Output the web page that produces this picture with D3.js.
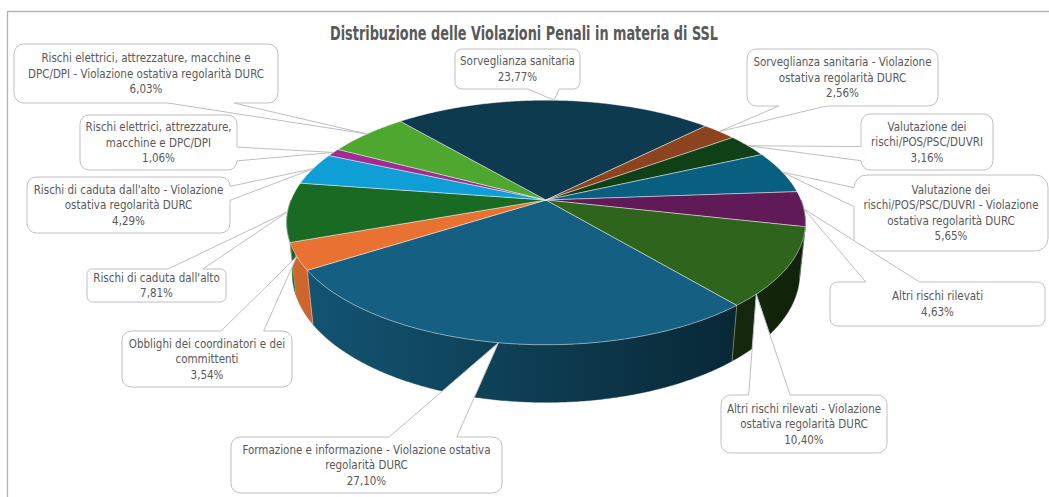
<!DOCTYPE html>
<html>
<head>
<meta charset="utf-8">
<script src="https://cdn.jsdelivr.net/npm/d3@7"></script>
<style>
  body { margin: 0; background: #fff; }
  svg { display: block; }
</style>
</head>
<body>
<script>
const width = 1049;
const height = 497;

// data, in the order Excel draws the points (clockwise from the first slice angle)
const categories = [
  "Formazione e informazione - Violazione ostativa regolarità DURC",
  "Obblighi dei coordinatori e dei committenti",
  "Rischi di caduta dall'alto",
  "Rischi di caduta dall'alto - Violazione ostativa regolarità DURC",
  "Rischi elettrici, attrezzature, macchine e DPC/DPI",
  "Rischi elettrici, attrezzature, macchine e DPC/DPI - Violazione ostativa regolarità DURC",
  "Sorveglianza sanitaria",
  "Sorveglianza sanitaria - Violazione ostativa regolarità DURC",
  "Valutazione dei rischi/POS/PSC/DUVRI",
  "Valutazione dei rischi/POS/PSC/DUVRI - Violazione ostativa regolarità DURC",
  "Altri rischi rilevati",
  "Altri rischi rilevati - Violazione ostativa regolarità DURC"
];
const values = [27.10, 3.54, 7.81, 4.29, 1.06, 6.03, 23.77, 2.56, 3.16, 5.65, 4.63, 10.40];
const labelLines = [
  ["Formazione e informazione - Violazione ostativa", "regolarità DURC"],
  ["Obblighi dei coordinatori e dei", "committenti"],
  ["Rischi di caduta dall'alto"],
  ["Rischi di caduta dall'alto - Violazione", "ostativa regolarità DURC"],
  ["Rischi elettrici, attrezzature,", "macchine e DPC/DPI"],
  ["Rischi elettrici, attrezzature, macchine e", "DPC/DPI - Violazione ostativa regolarità DURC"],
  ["Sorveglianza sanitaria"],
  ["Sorveglianza sanitaria - Violazione", "ostativa regolarità DURC"],
  ["Valutazione dei", "rischi/POS/PSC/DUVRI"],
  ["Valutazione dei", "rischi/POS/PSC/DUVRI - Violazione", "ostativa regolarità DURC"],
  ["Altri rischi rilevati"],
  ["Altri rischi rilevati - Violazione", "ostativa regolarità DURC"]
];
const colors = ["#156082", "#E97132", "#196B24", "#0F9ED5", "#A02B93", "#4EA72E",
                "#0D3A4E", "#8C441E", "#0F4016", "#095F7F", "#601A58", "#2F641C"];

// callout boxes [x, y, w, h] and where in the slice the pointer lands
const boxes = [
  [231, 437, 271, 56], [122, 331, 170, 56], [87, 269, 139, 33], [27, 177, 203, 56],
  [80, 115, 157, 55], [14, 44, 264, 59], [455, 49, 125, 40], [747, 49, 191, 57],
  [861, 114, 132, 56], [854, 175, 194, 76], [830, 282, 215, 44], [721, 395, 166, 58]
];
const anchorFrac = [0.5, 0.5, 0.5, 0.5, 0.5, 0.5, 0.5, 0.5, 0.5, 0.5, 0.5, 0.84];

const textColor = "#595959";
const font = "'DejaVu Sans Condensed', 'DejaVu Sans', sans-serif";

// 3d projection of the pie
const cx = 546, cy = 200, R = 255, H = 58, D = 1229;
const tilt = 27.6 * Math.PI / 180;
function proj(t, r, y) {
  const X = r * Math.sin(t), Z = -r * Math.cos(t);
  const v = y * Math.cos(tilt) - Z * Math.sin(tilt);
  const w = Z * Math.cos(tilt) + y * Math.sin(tilt);
  const s = D / (D - w);
  return [cx + X * s, cy - v * s, w];
}

const svg = d3.select("body").append("svg")
  .attr("width", width).attr("height", height);

// chart frame
svg.append("path")
  .attr("d", `M7.5,${height} V11.5 H${width}`)
  .attr("fill", "none").attr("stroke", "#b4b4b4").attr("stroke-width", 1.3);

svg.append("text")
  .attr("x", 524).attr("y", 40)
  .attr("text-anchor", "middle")
  .attr("font-family", font).attr("font-weight", "bold").attr("font-size", 19)
  .attr("textLength", 388).attr("lengthAdjust", "spacingAndGlyphs")
  .attr("fill", textColor)
  .text("Distribuzione delle Violazioni Penali in materia di SSL");

const start = 140 * Math.PI / 180;
const pie = d3.pie().sort(null).value(d => d)
  .startAngle(start).endAngle(start + 2 * Math.PI);
const arcs = pie(values);

const line = d3.line();
const step = 0.5 * Math.PI / 180;

// side light comes from the left: one horizontal gradient per colour
const defs = svg.append("defs");
colors.forEach((c, i) => {
  const g = defs.append("linearGradient").attr("id", "wall" + i)
    .attr("gradientUnits", "userSpaceOnUse")
    .attr("x1", cx - R).attr("x2", cx + R).attr("y1", 0).attr("y2", 0);
  const col = d3.rgb(c);
  [[0, 0.9], [1, 0.34]].forEach(([o, f]) => {
    g.append("stop").attr("offset", o)
      .attr("stop-color", d3.rgb(col.r * f, col.g * f, col.b * f).formatHex());
  });
});

function arcPoints(t0, t1, y) {
  const n = Math.max(2, Math.ceil(Math.abs(t1 - t0) / step));
  return d3.range(n + 1).map(k => {
    const p = proj(t0 + (t1 - t0) * k / n, R, y);
    return [p[0], p[1]];
  });
}

// outer walls, only the front half can be seen
const front = [Math.PI / 2, 3 * Math.PI / 2];
const walls = [];
arcs.forEach((a, i) => {
  for (const shift of [0, -2 * Math.PI]) {
    const t0 = Math.max(a.startAngle + shift, front[0]);
    const t1 = Math.min(a.endAngle + shift, front[1]);
    if (t1 > t0) walls.push({ i, t0, t1 });
  }
});

svg.append("g").selectAll("path").data(walls).enter().append("path")
  .attr("d", d => line(arcPoints(d.t0, d.t1, 0).concat(arcPoints(d.t1, d.t0, -H))) + "Z")
  .attr("fill", d => `url(#wall${d.i})`)
  .attr("stroke", d => `url(#wall${d.i})`).attr("stroke-width", 0.5);

// slice borders on the visible part of the wall
svg.append("g").selectAll("line")
  .data(arcs.filter(a => Math.cos(a.startAngle) < 0))
  .enter().append("line")
  .attr("x1", a => proj(a.startAngle, R, 0)[0]).attr("y1", a => proj(a.startAngle, R, 0)[1])
  .attr("x2", a => proj(a.startAngle, R, -H)[0]).attr("y2", a => proj(a.startAngle, R, -H)[1])
  .attr("stroke", "#ffffff").attr("stroke-opacity", 0.45).attr("stroke-width", 0.8);

// top faces
svg.append("g").selectAll("path").data(arcs).enter().append("path")
  .attr("d", a => line([[cx, cy]].concat(arcPoints(a.startAngle, a.endAngle, 0))) + "Z")
  .attr("fill", (a, i) => colors[i])
  .attr("stroke", "#ffffff").attr("stroke-opacity", 0.55).attr("stroke-width", 0.8)
  .attr("stroke-linejoin", "round");

// wedge callout shape (OOXML wedgeRoundRectCallout)
function calloutPath(x, y, w, h, tip) {
  const r = Math.min(w, h) * 0.16667;
  const dx = tip[0] - (x + w / 2), dy = tip[1] - (y + h / 2);
  const vertical = Math.abs(dy) / h > Math.abs(dx) / w;
  const p = d3.path();
  let side, a1, a2;
  if (vertical) {
    side = dy > 0 ? "bottom" : "top";
    a1 = x + w * (dx > 0 ? 7 : 2) / 12; a2 = x + w * (dx > 0 ? 10 : 5) / 12;
  } else {
    side = dx > 0 ? "right" : "left";
    a1 = y + h * (dy > 0 ? 7 : 2) / 12; a2 = y + h * (dy > 0 ? 10 : 5) / 12;
  }
  p.moveTo(x + r, y);
  if (side === "top") { p.lineTo(a1, y); p.lineTo(tip[0], tip[1]); p.lineTo(a2, y); }
  p.lineTo(x + w - r, y);
  p.arcTo(x + w, y, x + w, y + r, r);
  if (side === "right") { p.lineTo(x + w, a1); p.lineTo(tip[0], tip[1]); p.lineTo(x + w, a2); }
  p.lineTo(x + w, y + h - r);
  p.arcTo(x + w, y + h, x + w - r, y + h, r);
  if (side === "bottom") { p.lineTo(a2, y + h); p.lineTo(tip[0], tip[1]); p.lineTo(a1, y + h); }
  p.lineTo(x + r, y + h);
  p.arcTo(x, y + h, x, y + h - r, r);
  if (side === "left") { p.lineTo(x, a2); p.lineTo(tip[0], tip[1]); p.lineTo(x, a1); }
  p.lineTo(x, y + r);
  p.arcTo(x, y, x + r, y, r);
  p.closePath();
  return p.toString();
}

const fmt = v => d3.format(".2f")(v).replace(".", ",") + "%";

const labels = svg.append("g").selectAll("g").data(arcs).enter().append("g");

labels.append("path")
  .attr("d", (a, i) => {
    const t = a.startAngle + (a.endAngle - a.startAngle) * anchorFrac[i];
    const tip = proj(t, R, 0);
    const [x, y, w, h] = boxes[i];
    return calloutPath(x, y, w, h, tip);
  })
  .attr("fill", "#ffffff").attr("stroke", "#bfbfbf").attr("stroke-width", 1);

labels.append("text")
  .attr("text-anchor", "middle")
  .attr("font-family", font).attr("font-size", 11.5)
  .attr("fill", textColor)
  .each(function (a, i) {
    const lines = labelLines[i].concat([fmt(values[i])]);
    const [x, y, w, h] = boxes[i];
    const lh = 15.5;
    const y0 = y + h / 2 - (lines.length - 1) * lh / 2 + 4.2;
    d3.select(this).selectAll("tspan").data(lines).enter().append("tspan")
      .attr("x", x + w / 2).attr("y", (d, k) => y0 + k * lh)
      .text(d => d);
  });
</script>
</body>
</html>
